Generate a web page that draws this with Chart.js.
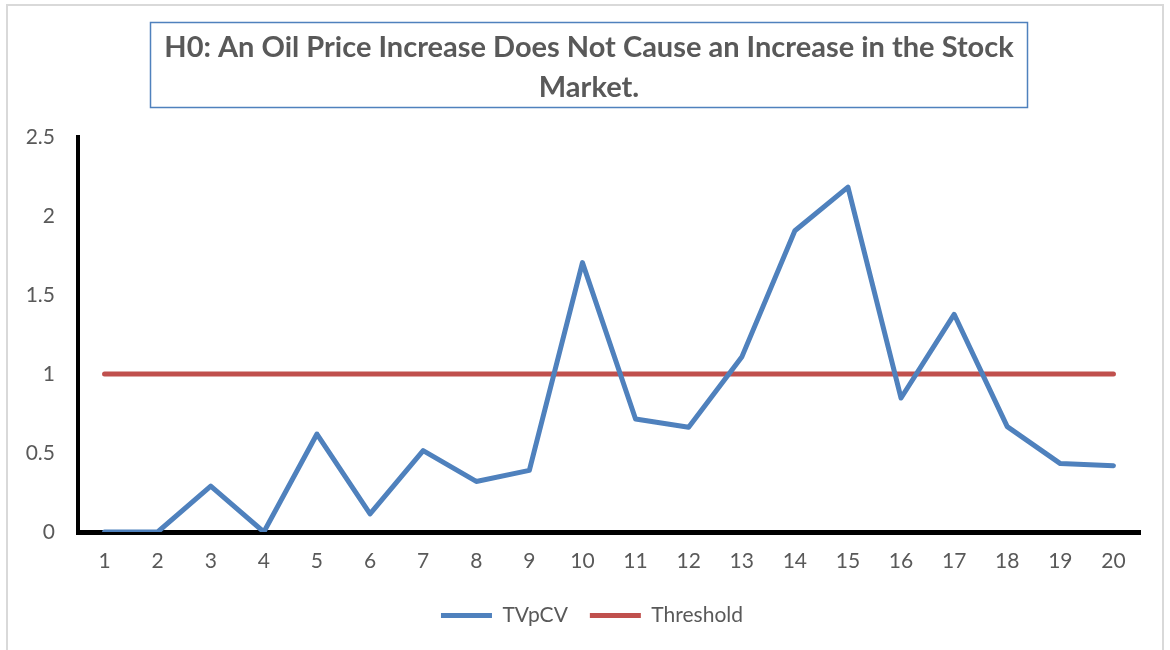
<!DOCTYPE html>
<html>
<head>
<meta charset="utf-8">
<script src="https://cdn.jsdelivr.net/npm/chart.js@4.4.1/dist/chart.umd.min.js"></script>
<style>
  html, body { margin: 0; padding: 0; background: #fff; overflow: hidden; }
  .frame {
    position: absolute; left: 6px; top: 4px; width: 1158px; height: 700px;
    border: 2px solid #d9d9d9; box-sizing: border-box;
  }
  #chart { position: absolute; left: 0; top: 0; }
</style>
</head>
<body>
<div class="frame"></div>
<canvas id="chart" width="1170" height="650"></canvas>
<script>
// chart data
const categories = ["1", "2", "3", "4", "5", "6", "7", "8", "9", "10",
  "11", "12", "13", "14", "15", "16", "17", "18", "19", "20"];
const tvpcv = [0, 0, 0.29, 0, 0.62, 0.115, 0.515, 0.32, 0.39, 1.705,
  0.715, 0.663, 1.107, 1.907, 2.183, 0.848, 1.378, 0.667, 0.433, 0.42];
const threshold = [1, 1, 1, 1, 1, 1, 1, 1, 1, 1,
  1, 1, 1, 1, 1, 1, 1, 1, 1, 1];
const yTicks = [0, 0.5, 1, 1.5, 2, 2.5];
const yTickLabels = ["0", "0.5", "1", "1.5", "2", "2.5"];
const titleLines = ["H0: An Oil Price Increase Does Not Cause an Increase in the Stock", "Market."];

const textGrey = "#595959";
const fontFamily = "Lato, 'Open Sans', sans-serif";

// draws the blue box round the title
const titleBoxPlugin = {
  id: "titleBox",
  afterDraw(chart) {
    const ctx = chart.ctx;
    ctx.save();
    ctx.strokeStyle = "#4f81bd";
    ctx.lineWidth = 1.5;
    ctx.strokeRect(150.5, 22.5, 877, 85);
    ctx.restore();
  },
};

// title and legend sit a little right of the centre in the original
const shiftPlugin = {
  id: "shiftBoxes",
  afterLayout(chart) {
    chart.legend.left += 22;
    chart.legend.right += 22;
    chart.titleBlock.left += 19;
    chart.titleBlock.right += 19;
  },
};

document.addEventListener("DOMContentLoaded", function () {
  const ctx = document.getElementById("chart").getContext("2d");
  new Chart(ctx, {
    type: "line",
    data: {
      labels: categories,
      datasets: [
        {
          label: "TVpCV",
          data: tvpcv,
          borderColor: "#4f81bd",
          backgroundColor: "#4f81bd",
          borderWidth: 5,
          borderCapStyle: "round",
          borderJoinStyle: "round",
          pointRadius: 0,
          pointStyle: "line",
          tension: 0,
        },
        {
          label: "Threshold",
          data: threshold,
          borderColor: "#c0504d",
          backgroundColor: "#c0504d",
          borderWidth: 5,
          borderCapStyle: "round",
          pointRadius: 0,
          pointStyle: "line",
          tension: 0,
        },
      ],
    },
    options: {
      responsive: false,
      animation: false,
      layout: { padding: { left: 0, right: 30, top: 0, bottom: 14 } },
      plugins: {
        title: {
          display: true,
          text: titleLines,
          color: textGrey,
          font: { family: fontFamily, size: 29, weight: "bold", lineHeight: 1.38 },
          padding: { top: 28, bottom: 29 },
        },
        legend: {
          position: "bottom",
          labels: {
            color: textGrey,
            font: { family: fontFamily, size: 21 },
            usePointStyle: true,
            pointStyleWidth: 51,
            padding: 22,
          },
        },
        tooltip: { enabled: false },
      },
      scales: {
        x: {
          offset: true,
          grid: { drawOnChartArea: false, drawTicks: false },
          border: { display: true, color: "#000", width: 5 },
          ticks: {
            color: textGrey,
            font: { family: fontFamily, size: 21 },
            padding: 17,
            maxRotation: 0,
            autoSkip: false,
          },
          afterFit(scale) { scale.height = 51; },
        },
        y: {
          min: 0,
          max: 2.5,
          grid: { drawOnChartArea: false, drawTicks: false },
          border: { display: true, color: "#000", width: 4 },
          afterBuildTicks(scale) {
            scale.ticks = yTicks.map((v) => ({ value: v }));
          },
          ticks: {
            color: textGrey,
            font: { family: fontFamily, size: 21 },
            padding: 23,
            callback: function (value, index) {
              return yTickLabels[index];
            },
          },
          afterFit(scale) { scale.width = 78; },
        },
      },
    },
    plugins: [titleBoxPlugin, shiftPlugin],
  });
});
</script>
</body>
</html>
